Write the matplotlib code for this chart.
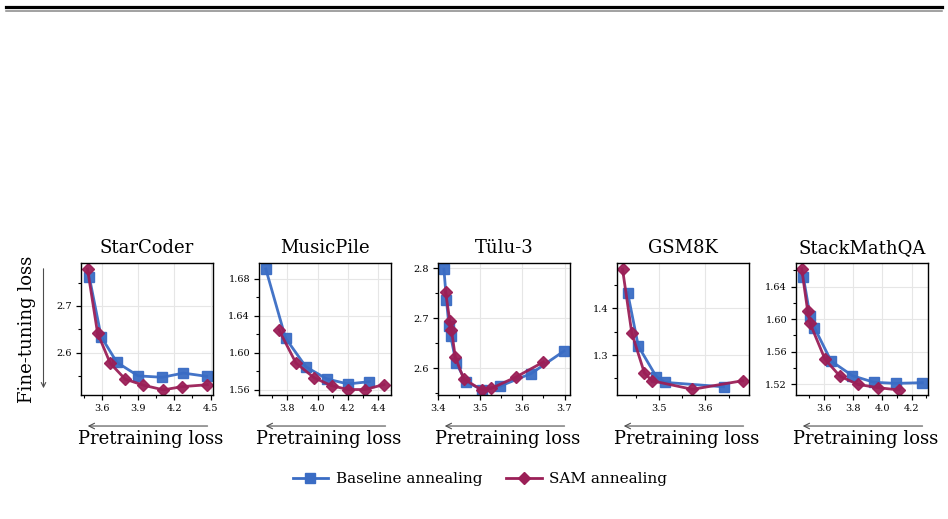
import matplotlib
matplotlib.use("Agg")
import matplotlib.pyplot as plt
from matplotlib.lines import Line2D
from matplotlib.ticker import MultipleLocator, FormatStrFormatter

plt.rcParams['font.family'] = 'DejaVu Serif'

# ---------------- data ----------------
titles = ["StarCoder", "MusicPile", "Tülu-3", "GSM8K", "StackMathQA"]

base_x = [
    [3.495, 3.594, 3.724, 3.90, 4.10, 4.275, 4.468],
    [3.659, 3.789, 3.923, 4.060, 4.200, 4.341],
    [3.414, 3.420, 3.426, 3.430, 3.443, 3.467, 3.504, 3.548, 3.621, 3.699],
    [3.432, 3.455, 3.494, 3.512, 3.639],
    [3.458, 3.504, 3.534, 3.648, 3.794, 3.942, 4.091, 4.273],
]
base_y = [
    [2.763, 2.634, 2.579, 2.550, 2.547, 2.556, 2.549],
    [1.6905, 1.616, 1.585, 1.572, 1.5665, 1.569],
    [2.7986, 2.737, 2.685, 2.665, 2.611, 2.573, 2.558, 2.565, 2.590, 2.635],
    [1.4334, 1.319, 1.2535, 1.2415, 1.232],
    [1.6523, 1.604, 1.5896, 1.5487, 1.5306, 1.5225, 1.5212, 1.522],
]
sam_x = [
    [3.481, 3.564, 3.669, 3.793, 3.944, 4.109, 4.266, 4.473],
    [3.745, 3.858, 3.979, 4.092, 4.200, 4.313, 4.438],
    [3.418, 3.428, 3.432, 3.441, 3.461, 3.504, 3.526, 3.585, 3.650],
    [3.421, 3.441, 3.468, 3.484, 3.572, 3.680],
    [3.447, 3.488, 3.504, 3.607, 3.709, 3.830, 3.967, 4.115],
]
sam_y = [
    [2.779, 2.642, 2.577, 2.543, 2.530, 2.520, 2.527, 2.531],
    [1.6249, 1.589, 1.573, 1.5647, 1.5605, 1.5605, 1.5659],
    [2.753, 2.695, 2.677, 2.623, 2.579, 2.557, 2.560, 2.583, 2.613],
    [1.4835, 1.3465, 1.262, 1.245, 1.2265, 1.245],
    [1.6618, 1.610, 1.595, 1.5507, 1.530, 1.520, 1.516, 1.513],
]

xlims = [(3.427, 4.52), (3.614, 4.484), (3.40, 3.713), (3.409, 3.694), (3.408, 4.312)]
ylims = [(2.509, 2.792), (1.5546, 1.697), (2.547, 2.811), (1.2144, 1.497), (1.5069, 1.669)]
xmaj = [0.3, 0.2, 0.1, 0.1, 0.2]
xmin = [0.15, 0.1, 0.05, 0.05, 0.1]
ymaj = [0.1, 0.04, 0.1, 0.1, 0.04]
ymin = [0.05, 0.02, 0.05, 0.05, 0.02]
yfmt = ["%.1f", "%.2f", "%.1f", "%.1f", "%.2f"]

blue = "#3a6cc4"
red = "#9b1f57"

W, H = 948, 519
fig = plt.figure(figsize=(W / 100, H / 100), dpi=100)

lefts = [81, 259, 438, 617, 796]
aw, top, bot = 132, 263, 395

for i in range(5):
    ax = fig.add_axes([lefts[i] / W, 1 - bot / H, aw / W, (bot - top) / H])
    ax.plot(base_x[i], base_y[i], '-s', color=blue, lw=2.0, ms=6.5, alpha=0.95)
    ax.plot(sam_x[i], sam_y[i], '-D', color=red, lw=2.0, ms=6.5, alpha=0.95)
    ax.set_xlim(*xlims[i])
    ax.set_ylim(*ylims[i])
    ax.xaxis.set_major_locator(MultipleLocator(xmaj[i]))
    ax.xaxis.set_minor_locator(MultipleLocator(xmin[i]))
    ax.yaxis.set_major_locator(MultipleLocator(ymaj[i]))
    ax.yaxis.set_minor_locator(MultipleLocator(ymin[i]))
    ax.yaxis.set_major_formatter(FormatStrFormatter(yfmt[i]))
    ax.xaxis.set_major_formatter(FormatStrFormatter("%.1f"))
    ax.tick_params(which='major', length=3.5, width=0.9, labelsize=7, pad=3)
    ax.tick_params(which='minor', length=2, width=0.8)
    ax.grid(True, which='major', color='#e6e6e6', lw=0.8)
    ax.set_axisbelow(True)
    for s in ax.spines.values():
        s.set_linewidth(1.0)
    ax.set_title(titles[i], fontsize=13, pad=7)
    # arrow + x label under each panel
    ax.annotate('', xy=(0.03, -0.235), xytext=(0.98, -0.235),
                xycoords='axes fraction',
                arrowprops=dict(arrowstyle='->', color='0.3', lw=0.8))
    ax.text(0.53, -0.33, "Pretraining loss", transform=ax.transAxes,
            ha='center', va='center', fontsize=13)

# y label with down arrow
fig.text(27 / W, 1 - 329 / H, "Fine-tuning loss", rotation=90,
         ha='center', va='center', fontsize=13)
fig.add_artist(matplotlib.patches.FancyArrowPatch(
    (43.5 / W, 1 - 266 / H), (43.5 / W, 1 - 391 / H),
    transform=fig.transFigure, arrowstyle='->', mutation_scale=8,
    color='0.3', lw=0.8))

# legend
handles = [Line2D([], [], color=blue, marker='s', lw=2.0, ms=6.5),
           Line2D([], [], color=red, marker='D', lw=2.0, ms=6.5)]
fig.legend(handles, ["Baseline annealing", "SAM annealing"], loc='center',
           bbox_to_anchor=(480 / W, 1 - 479 / H), ncol=2, frameon=False,
           fontsize=11, handlelength=2.3, handletextpad=0.5, columnspacing=1.6)

# page rule lines at the top
fig.add_artist(Line2D([6 / W, 942 / W], [1 - 6.8 / H, 1 - 6.8 / H],
                      transform=fig.transFigure, color='black', lw=2.3))
fig.add_artist(Line2D([6 / W, 942 / W], [1 - 11 / H, 1 - 11 / H],
                      transform=fig.transFigure, color='#888888', lw=1.1))

fig.savefig("out.png", dpi=100)
